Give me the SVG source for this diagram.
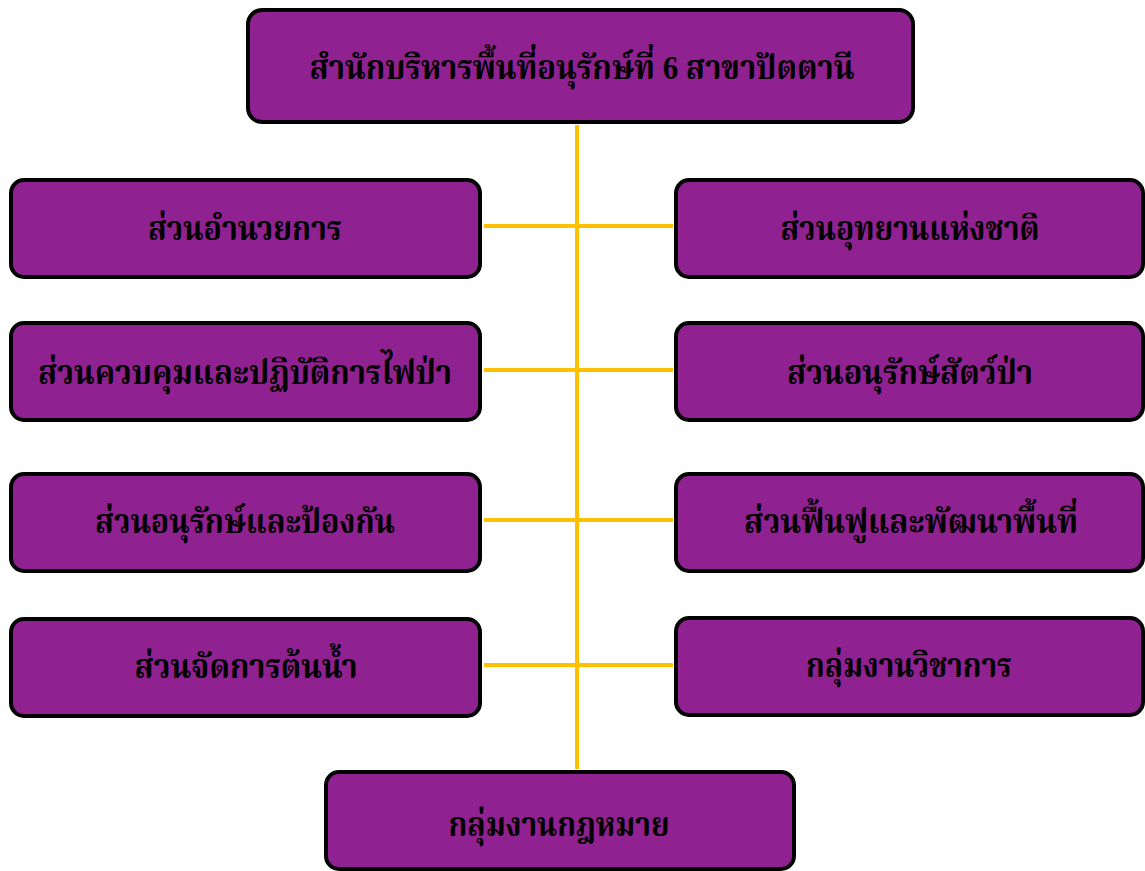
<svg xmlns="http://www.w3.org/2000/svg" width="1145" height="871" viewBox="0 0 1145 871">
<style>
.box{fill:#8F2191;stroke:#000;stroke-width:4}
.lbl{font-family:"Liberation Serif","Noto Serif Thai","Noto Sans Thai",serif;font-weight:bold;font-size:33px;fill:#000;text-anchor:middle;dominant-baseline:central}
.con{stroke:#FFC000;stroke-width:4;fill:none}
</style>
<rect width="1145" height="871" fill="#fff"/>
<g id="connectors">
<line class="con" x1="577" y1="125" x2="577" y2="769"/>
<line class="con" x1="484" y1="226" x2="673" y2="226"/>
<line class="con" x1="484" y1="370" x2="673" y2="370"/>
<line class="con" x1="484" y1="520" x2="673" y2="520"/>
<line class="con" x1="484" y1="665" x2="673" y2="665"/>
</g>
<g id="n0"><rect class="box" x="248" y="10" width="665" height="112" rx="14"/><text class="lbl" x="582" y="68" textLength="545" lengthAdjust="spacingAndGlyphs">สำนักบริหารพื้นที่อนุรักษ์ที่ 6 สาขาปัตตานี</text></g>
<g id="n1"><rect class="box" x="11" y="180" width="469" height="97" rx="13"/><text class="lbl" x="245" y="229" textLength="194" lengthAdjust="spacingAndGlyphs">ส่วนอำนวยการ</text></g>
<g id="n2"><rect class="box" x="676" y="180" width="467" height="97" rx="13"/><text class="lbl" x="910" y="229" textLength="259" lengthAdjust="spacingAndGlyphs">ส่วนอุทยานแห่งชาติ</text></g>
<g id="n3"><rect class="box" x="11" y="323" width="469" height="97" rx="13"/><text class="lbl" x="245" y="373" textLength="414" lengthAdjust="spacingAndGlyphs">ส่วนควบคุมและปฏิบัติการไฟป่า</text></g>
<g id="n4"><rect class="box" x="676" y="323" width="467" height="97" rx="13"/><text class="lbl" x="910" y="373" textLength="246" lengthAdjust="spacingAndGlyphs">ส่วนอนุรักษ์สัตว์ป่า</text></g>
<g id="n5"><rect class="box" x="11" y="474" width="469" height="97" rx="13"/><text class="lbl" x="245" y="522" textLength="300" lengthAdjust="spacingAndGlyphs">ส่วนอนุรักษ์และป้องกัน</text></g>
<g id="n6"><rect class="box" x="676" y="474" width="467" height="97" rx="13"/><text class="lbl" x="911" y="522" textLength="334" lengthAdjust="spacingAndGlyphs">ส่วนฟื้นฟูและพัฒนาพื้นที่</text></g>
<g id="n7"><rect class="box" x="11" y="619" width="469" height="97" rx="13"/><text class="lbl" x="246" y="667" textLength="223" lengthAdjust="spacingAndGlyphs">ส่วนจัดการต้นน้ำ</text></g>
<g id="n8"><rect class="box" x="676" y="618" width="467" height="97" rx="13"/><text class="lbl" x="909" y="666" textLength="206" lengthAdjust="spacingAndGlyphs">กลุ่มงานวิชาการ</text></g>
<g id="n9"><rect class="box" x="326" y="772" width="468" height="97" rx="13"/><text class="lbl" x="559" y="825" textLength="221" lengthAdjust="spacingAndGlyphs">กลุ่มงานกฎหมาย</text></g>
</svg>
